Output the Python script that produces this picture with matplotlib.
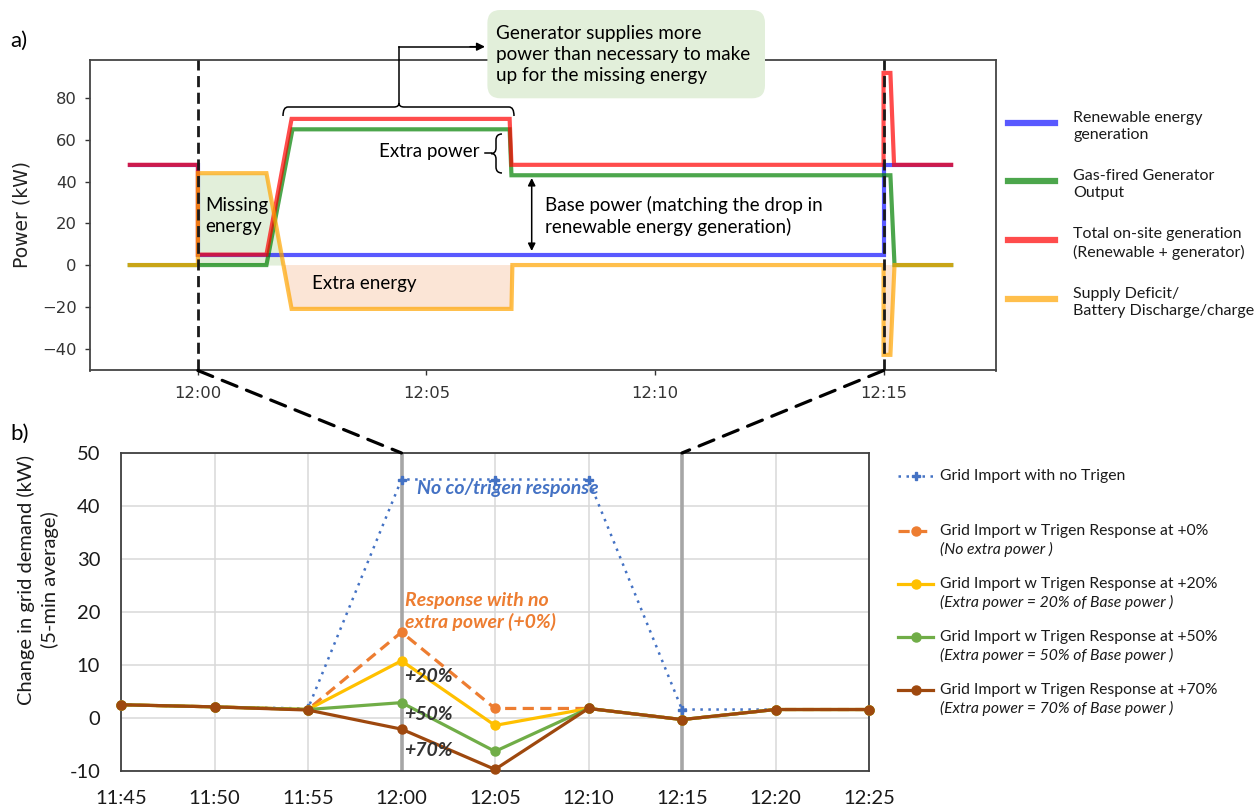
import matplotlib
matplotlib.use("Agg")
import matplotlib.pyplot as plt
import numpy as np
from matplotlib.lines import Line2D
from matplotlib.patches import FancyBboxPatch, ConnectionPatch, PathPatch
from matplotlib.path import Path
from matplotlib.transforms import Affine2D

# ---------------- data: panel a (minutes after 12:00, kW) ----------------
renew_t = [-1.49, 0.0, 0.0, 15.0, 15.0, 16.48]
renew_kw = [48, 48, 5, 5, 48, 48]
gen_t = [-1.49, 1.5, 2.07, 6.82, 6.86, 15.15, 15.24, 16.48]
gen_kw = [0, 0, 65, 65, 43, 43, 0, 0]
total_t = [-1.49, 0.0, 0.0, 1.5, 2.05, 6.82, 6.86, 15.0, 15.0, 15.15, 15.23, 16.48]
total_kw = [48, 48, 5, 5, 70, 70, 48, 48, 92, 92, 48, 48]
deficit_t = [-1.49, 0.0, 0.0, 1.5, 2.05, 6.86, 6.88, 15.0, 15.0, 15.15, 15.24, 16.48]
deficit_kw = [0, 0, 44, 44, -21, -21, 0, 0, -43, -43, 0, 0]

top_ticks = [0, 5, 10, 15]
top_tick_labels = ["12:00", "12:05", "12:10", "12:15"]
top_yticks = [-40, -20, 0, 20, 40, 60, 80]
event_times = [0, 15]

top_series_labels = ["Renewable energy\ngeneration",
                     "Gas-fired Generator\nOutput",
                     "Total on-site generation\n(Renewable + generator)",
                     "Supply Deficit/\nBattery Discharge/charge"]

# ---------------- data: panel b (5-min averages) ----------------
times_b = [-15, -10, -5, 0, 5, 10, 15, 20, 25]
time_labels_b = ["11:45", "11:50", "11:55", "12:00", "12:05", "12:10", "12:15", "12:20", "12:25"]
no_trigen = [2.5, 2.1, 1.8, 45, 45, 45, 1.6, 1.6, 1.6]
resp_0 = [2.5, 2.1, 1.6, 16.2, 1.8, 1.8, -0.3, 1.6, 1.6]
resp_20 = [2.5, 2.1, 1.6, 10.8, -1.4, 1.8, -0.3, 1.6, 1.6]
resp_50 = [2.5, 2.1, 1.6, 2.9, -6.3, 1.8, -0.3, 1.6, 1.6]
resp_70 = [2.5, 2.1, 1.5, -2.1, -9.7, 1.8, -0.3, 1.6, 1.6]
bottom_yticks = [-10, 0, 10, 20, 30, 40, 50]
bottom_ytick_labels = ["-10", "0", "10", "20", "30", "40", "50"]

legend_b_main = ["Grid Import with no Trigen",
                 "Grid Import w Trigen Response at +0%",
                 "Grid Import w Trigen Response at +20%",
                 "Grid Import w Trigen Response at +50%",
                 "Grid Import w Trigen Response at +70%"]
legend_b_sub = [None, "(No extra power )",
                "(Extra power = 20% of Base power )",
                "(Extra power = 50% of Base power )",
                "(Extra power = 70% of Base power )"]

# ---------------- figure ----------------
W, H = 1258, 809
fig = plt.figure(figsize=(W / 100, H / 100), dpi=100)
pix = Affine2D().scale(1.0 / W, -1.0 / H).translate(0, 1) + fig.transFigure

CAL = ["Lato", "DejaVu Sans"]

def axes_px(l, t, r, b):
    return fig.add_axes([l / W, 1 - b / H, (r - l) / W, (b - t) / H])

# ================= panel a =================
ax1 = axes_px(90, 60, 996, 370.5)
ax1.set_xlim(-2.36, 17.46)
ax1.set_ylim(-50.5, 98.2)

rt = np.array(deficit_t)
rk = np.array(deficit_kw, dtype=float)
ax1.fill_between(rt, 0, rk, where=rk > 0, interpolate=True, color="#e2efda", lw=0, zorder=1)
ax1.fill_between(rt, 0, rk, where=rk < 0, interpolate=True, color="#fbe5d6", lw=0, zorder=1)

col_blue, col_green, col_red, col_orange = "blue", "green", "red", "orange"
l_b, = ax1.plot(renew_t, renew_kw, color=col_blue, alpha=0.65, lw=3, zorder=3, solid_joinstyle="miter")
l_g, = ax1.plot(gen_t, gen_kw, color=col_green, alpha=0.7, lw=3, zorder=3, solid_joinstyle="miter")
l_r, = ax1.plot(total_t, total_kw, color=col_red, alpha=0.7, lw=3, zorder=4, solid_joinstyle="miter")
l_o, = ax1.plot(deficit_t, deficit_kw, color=col_orange, alpha=0.7, lw=3, zorder=4, solid_joinstyle="miter")
for et in event_times:
    ax1.axvline(et, color="#1a1a1a", lw=2, ls=(0, (4, 2)), zorder=6)

ax1.set_xticks(top_ticks)
ax1.set_xticklabels(top_tick_labels)
ax1.set_yticks(top_yticks)
ax1.tick_params(labelsize=11.8, colors="#333333", length=3.5, width=1, pad=6)
ax1.tick_params(axis="x", pad=8)
for lab in ax1.get_xticklabels() + ax1.get_yticklabels():
    lab.set_family("DejaVu Sans")
for s in ax1.spines.values():
    s.set_color("#444444")
    s.set_linewidth(1.3)

fig.text(22 / W, 1 - 214 / H, "Power (kW)", rotation=90, ha="center", va="center",
         fontsize=13.5, color="#222222", family="DejaVu Sans")
fig.text(10 / W, 1 - 41 / H, "a)", ha="left", va="center", fontsize=16, family=CAL)
fig.text(10 / W, 1 - 434 / H, "b)", ha="left", va="center", fontsize=16, family=CAL)

# annotations panel a
fig.text(205.5 / W, 1 - 216 / H, "Missing\nenergy", ha="left", va="center", fontsize=13.5,
         family=CAL, linespacing=1.3)
fig.text(312 / W, 1 - 284 / H, "Extra energy", ha="left", va="center", fontsize=13.5, family=CAL)
fig.text(479 / W, 1 - 152 / H, "Extra power", ha="right", va="center", fontsize=13.5, family=CAL)
fig.text(544.7 / W, 1 - 216 / H, "Base power (matching the drop in\nrenewable energy generation)",
         ha="left", va="center", fontsize=13.5, family=CAL, linespacing=1.3)

# curly brace for extra power
M, C3, L = Path.MOVETO, Path.CURVE3, Path.LINETO
bv = [(502, 134), (496, 134), (496, 140), (496, 148), (496, 153.5), (491, 153.5),
      (496, 153.5), (496, 159), (496, 167), (496, 173), (502, 173)]
bc = [M, C3, C3, L, C3, C3, C3, C3, L, C3, C3]
fig.add_artist(PathPatch(Path(bv, bc), transform=pix, fill=False, lw=1.1, ec="black", zorder=7))
fig.add_artist(Line2D([485, 491], [153.5, 153.5], transform=pix, color="black", lw=1.1, zorder=7))

# top bracket
tv = [(283, 116), (283, 107), (288, 107), (394, 107), (399, 107), (399, 103),
      (399, 107), (404, 107), (509, 107), (514, 107), (514, 116)]
tc = [M, C3, C3, L, C3, C3, C3, C3, L, C3, C3]
fig.add_artist(PathPatch(Path(tv, tc), transform=pix, fill=False, lw=1.1, ec="black", zorder=7))
fig.add_artist(Line2D([399, 399], [103, 46.7], transform=pix, color="black", lw=1.1, zorder=7))
fig.add_artist(Line2D([399, 478], [46.7, 46.7], transform=pix, color="black", lw=1.1, zorder=7))
ax1.annotate("", xy=(485, 46.7), xycoords=pix, xytext=(470, 46.7), textcoords=pix,
             arrowprops=dict(arrowstyle="-|>", color="black", lw=1.1, mutation_scale=12,
                             shrinkA=0, shrinkB=0), annotation_clip=False, zorder=7)
# base power double arrow
ax1.annotate("", xy=(531.7, 178), xycoords=pix, xytext=(531.7, 251), textcoords=pix,
             arrowprops=dict(arrowstyle="<|-|>", color="black", lw=1.1, mutation_scale=11,
                             shrinkA=0, shrinkB=0), annotation_clip=False, zorder=7)

# callout box
box = FancyBboxPatch((487.4, 10), 277.6, 88.3, boxstyle="round,pad=0,rounding_size=13",
                     transform=pix, fc="#e2efda", ec="none", zorder=8)
fig.add_artist(box)
fig.text(496 / W, 1 - 54.5 / H,
         "Generator supplies more\npower than necessary to make\nup for the missing energy",
         ha="left", va="center", fontsize=13.6, family=CAL, linespacing=1.3, zorder=9)

# legend panel a (manual)
leg_y = [123, 181, 240, 299]
for y, line, lab in zip(leg_y, [l_b, l_g, l_r, l_o], top_series_labels):
    fig.add_artist(Line2D([1008, 1055], [y, y], transform=pix, color=line.get_color(),
                          alpha=line.get_alpha(), lw=4.5))
    fig.text(1073 / W, 1 - (y + 3.5) / H, lab, ha="left", va="center", fontsize=11.5,
             family=CAL, linespacing=1.3, color="#1a1a1a")

# ================= panel b =================
ax2 = axes_px(121, 453, 869, 771)
ax2.set_xlim(-15, 25)
ax2.set_ylim(-10, 50)
ax2.set_xticks(times_b)
ax2.set_xticklabels(time_labels_b)
ax2.set_yticks(bottom_yticks)
ax2.set_yticklabels(bottom_ytick_labels)
ax2.grid(True, color="#d9d9d9", lw=1.1, zorder=0)
ax2.set_axisbelow(True)
for et in event_times:
    ax2.axvline(et, color="#a6a6a6", lw=2.6, zorder=1)
ax2.tick_params(axis="x", length=0, pad=14, labelsize=14.5, colors="#1a1a1a")
ax2.tick_params(axis="y", length=0, pad=15, labelsize=14.5, colors="#1a1a1a")
for lab in ax2.get_xticklabels() + ax2.get_yticklabels():
    lab.set_family(CAL)
for s in ax2.spines.values():
    s.set_color("#404040")
    s.set_linewidth(1.3)

c_nt, c0, c20, c50, c70 = "#4472c4", "#ed7d31", "#ffc000", "#70ad47", "#9e480e"
styles = [
    (no_trigen, c_nt, (0, (1, 2.2)), "P", 6, 1.8),
    (resp_0, c0, (0, (3.5, 2)), "o", 6.5, 2.3),
    (resp_20, c20, "-", "o", 6.5, 2.3),
    (resp_50, c50, "-", "o", 6.5, 2.3),
    (resp_70, c70, "-", "o", 6.5, 2.3),
]
for i, (vals, c, ls, mk, ms, lw) in enumerate(styles):
    ax2.plot(times_b, vals, color=c, ls=ls, lw=lw, marker=mk, ms=ms, mec=c, mfc=c,
             zorder=3 + i, clip_on=False)

# connectors between panels
for et in event_times:
    con = ConnectionPatch(xyA=(et, -50.5), coordsA=ax1.transData, xyB=(et, 50),
                          coordsB=ax2.transData, color="black", lw=2.3, ls=(0, (5, 3.2)), zorder=10)
    fig.add_artist(con)

fig.text(38 / W, 1 - 580 / H, "Change in grid demand (kW)\n(5-min average)", rotation=90,
         ha="center", va="center", multialignment="center", fontsize=14.5, family=CAL,
         linespacing=1.35, color="#1a1a1a")

# annotations panel b
BI = dict(fontweight="bold", fontstyle="italic", family=CAL, ha="left", va="center", zorder=12)
fig.text(417 / W, 1 - 489 / H, "No co/trigen response", color=c_nt, fontsize=14, **BI)
fig.text(405 / W, 1 - 611.5 / H, "Response with no\nextra power (+0%)", color=c0, fontsize=14,
         linespacing=1.3, **BI)
for y, t in zip([677, 715, 750], ["+20%", "+50%", "+70%"]):
    fig.text(404 / W, 1 - y / H, t, color="#333333", fontsize=14, **BI)

# legend panel b (manual)
leg_by = [476, 531, 584, 637, 690]
for y, (vals, c, ls, mk, ms, lw), main, sub in zip(leg_by, styles, legend_b_main, legend_b_sub):
    fig.add_artist(Line2D([898, 915.5, 933], [y, y, y], transform=pix, color=c, ls=ls, lw=lw,
                          marker=mk, ms=ms, mfc=c, mec=c, markevery=[1]))
    fig.text(940 / W, 1 - y / H, main, ha="left", va="center", fontsize=11.3, family=CAL,
             color="#1a1a1a")
    if sub:
        fig.text(940 / W, 1 - (y + 18.5) / H, sub, ha="left", va="center", fontsize=11.3,
                 family=CAL, fontstyle="italic", color="#1a1a1a")

fig.savefig("out.png", dpi=100)
